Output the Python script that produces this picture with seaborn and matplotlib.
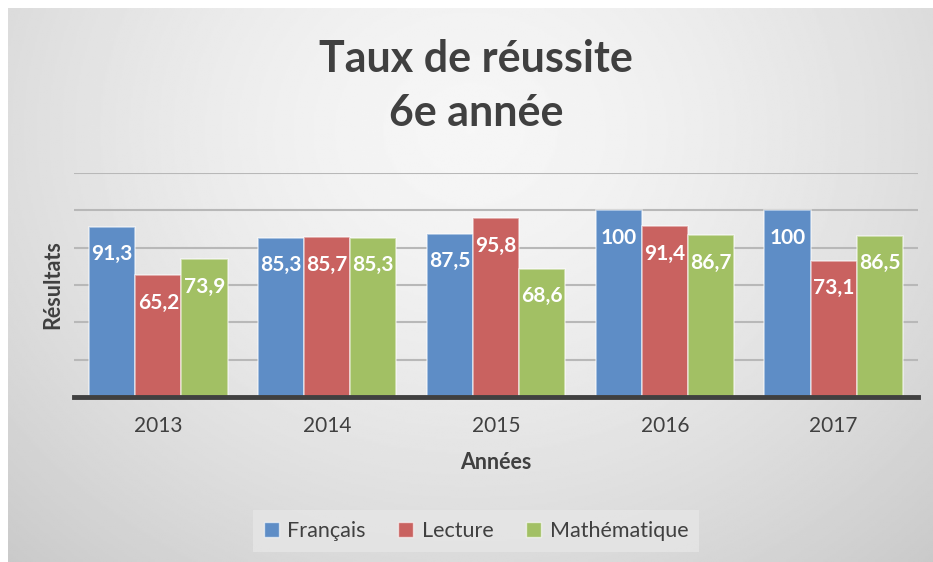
import numpy as np
import pandas as pd
import matplotlib
matplotlib.use("Agg")
import matplotlib.pyplot as plt
import seaborn as sns
from matplotlib.patches import Patch

annees = ["2013", "2014", "2015", "2016", "2017"]
francais = [91.3, 85.3, 87.5, 100, 100]
lecture = [65.2, 85.7, 95.8, 91.4, 73.1]
mathematique = [73.9, 85.3, 68.6, 86.7, 86.5]
matieres = ["Français", "Lecture", "Mathématique"]
couleurs = ["#5E8DC6", "#C96260", "#A2C064"]

rows = []
for serie, vals in zip(matieres, [francais, lecture, mathematique]):
    for a, v in zip(annees, vals):
        rows.append({"Années": a, "Résultats": v, "Matière": serie})
df = pd.DataFrame(rows)

sns.set_theme(style="white")
plt.rcParams["font.family"] = ["Lato", "DejaVu Sans"]
txt = "#404040"

fig = plt.figure(figsize=(9.33, 5.62), dpi=100)
fig.patch.set_facecolor("white")

# gradient background panel
bg = fig.add_axes([8/933, 0, 925/933, 554/562], zorder=-10)
yy, xx = np.mgrid[0:1:300j, 0:1:500j]
d = np.sqrt(((xx - 0.5) / 0.72) ** 2 + ((yy - 0.22) / 1.05) ** 2)
val = 0.965 - 0.17 * np.clip(d, 0, 1.1) ** 1.5
bg.imshow(val, cmap="gray", vmin=0, vmax=1, aspect="auto", extent=[0, 1, 1, 0])
bg.set_axis_off()

ax = fig.add_axes([74/933, 1 - 397/562, (918-74)/933, (397-173)/562])
ax.patch.set_alpha(0)
sns.barplot(data=df, x="Années", y="Résultats", hue="Matière", palette=couleurs,
            width=0.82, saturation=1, edgecolor=(1, 1, 1, 0.55), linewidth=1.2,
            ax=ax, legend=False, zorder=3)
ax.set_ylim(0, 120)
ax.set_xlim(-0.5, 4.5)
ax.set_yticks(np.arange(0, 121, 20))
ax.set_yticklabels([])
ax.tick_params(axis="y", length=0)
ax.tick_params(axis="x", length=0, labelsize=15, labelcolor=txt, pad=14)
ax.grid(axis="y", color="#B8B8B8", linewidth=1.5, zorder=0)
ax.set_axisbelow(True)
for s in ["top", "right", "left"]:
    ax.spines[s].set_visible(False)
ax.spines["bottom"].set_color("#404040")
ax.spines["bottom"].set_linewidth(3.5)
ax.spines["bottom"].set_zorder(5)

for cont in ax.containers:
    labs = [f"{v:g}".replace(".", ",") for v in cont.datavalues]
    ax.bar_label(cont, labels=labs, padding=-27, color="white",
                 fontsize=15, fontweight="bold", zorder=6)

ax.set_xlabel("Années", fontsize=15.5, fontweight="bold", color=txt, labelpad=11)
ax.set_ylabel("Résultats", fontsize=15.5, fontweight="bold", color=txt, labelpad=4)

fig.text(0.510, 1 - 59/562, "Taux de réussite", ha="center", va="center",
         fontsize=31, fontweight="bold", color=txt)
fig.text(0.510, 1 - 113/562, "6e année", ha="center", va="center",
         fontsize=31, fontweight="bold", color=txt)

handles = [Patch(facecolor=c, edgecolor=(1, 1, 1, 0.6)) for c in couleurs]
leg = fig.legend(handles, matieres, loc="center", bbox_to_anchor=(476/933, 1 - 531/562),
                 ncol=3, frameon=True, fontsize=15.5, handlelength=0.7, handleheight=0.7,
                 handletextpad=0.4, columnspacing=1.5, borderpad=0.5)
leg.get_frame().set_facecolor("#E6E6E6")
leg.get_frame().set_edgecolor("none")
leg.get_frame().set_boxstyle("square", pad=0)
for t in leg.get_texts():
    t.set_color(txt)

fig.savefig("out.png", dpi=100)
